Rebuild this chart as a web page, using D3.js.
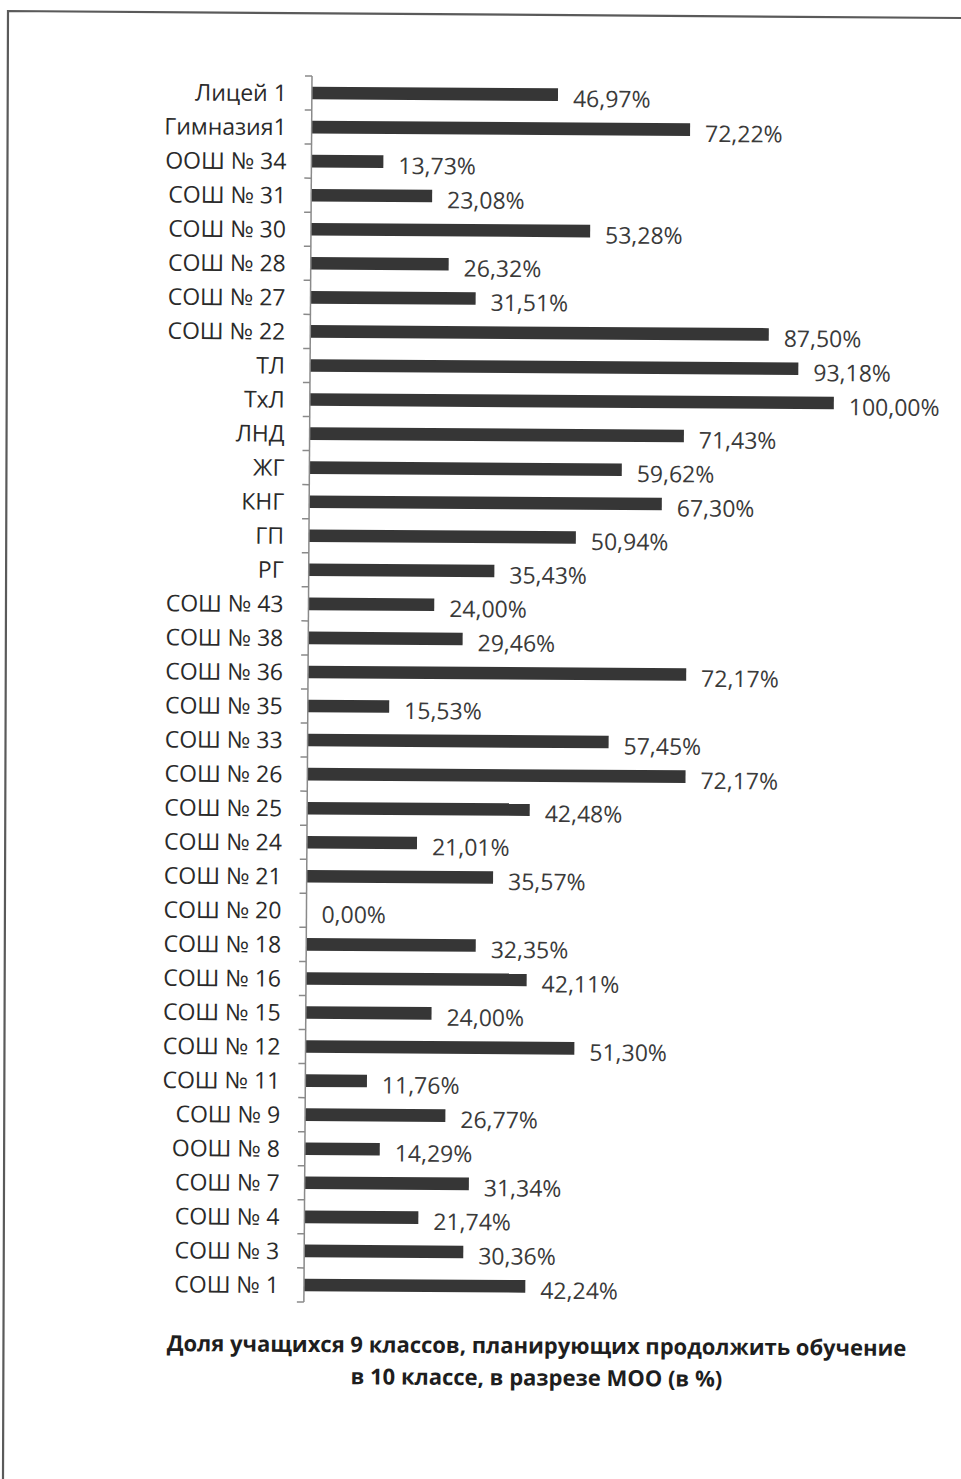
<!DOCTYPE html>
<html>
<head>
<meta charset="utf-8">
<script src="https://cdn.jsdelivr.net/npm/d3@7"></script>
<style>
  html, body { margin: 0; padding: 0; background: #fff; }
  svg { display: block; }
</style>
</head>
<body>
<svg id="chart"></svg>
<script>
// Schools (top to bottom) and share of 9th graders planning to continue in 10th grade, %
const schools = [
  "Лицей 1", "Гимназия1", "ООШ № 34", "СОШ № 31", "СОШ № 30", "СОШ № 28",
  "СОШ № 27", "СОШ № 22", "ТЛ", "ТхЛ", "ЛНД", "ЖГ", "КНГ", "ГП", "РГ",
  "СОШ № 43", "СОШ № 38", "СОШ № 36", "СОШ № 35", "СОШ № 33", "СОШ № 26",
  "СОШ № 25", "СОШ № 24", "СОШ № 21", "СОШ № 20", "СОШ № 18", "СОШ № 16",
  "СОШ № 15", "СОШ № 12", "СОШ № 11", "СОШ № 9", "ООШ № 8", "СОШ № 7",
  "СОШ № 4", "СОШ № 3", "СОШ № 1"
];
const shares = [
  46.97, 72.22, 13.73, 23.08, 53.28, 26.32,
  31.51, 87.50, 93.18, 100.00, 71.43, 59.62, 67.30, 50.94, 35.43,
  24.00, 29.46, 72.17, 15.53, 57.45, 72.17,
  42.48, 21.01, 35.57, 0.00, 32.35, 42.11,
  24.00, 51.30, 11.76, 26.77, 14.29, 31.34,
  21.74, 30.36, 42.24
];
const titleLines = [
  "Доля учащихся 9 классов, планирующих продолжить обучение",
  "в 10 классе, в разрезе МОО (в %)"
];

const width = 961;
const height = 1479;
const axisX = 312;
const axisTop = 76;
const axisBottom = 1302;

const svg = d3.select("#chart").attr("width", width).attr("height", height);

// scanned page frame (top and left edge)
svg.append("path")
  .attr("d", `M ${width} 18 L 8 11 L 3 ${height}`)
  .attr("fill", "none")
  .attr("stroke", "#5a5a5a")
  .attr("stroke-width", 2.2);

// the scan is a little tilted, so rotate the whole chart slightly
const g = svg.append("g").attr("transform", `rotate(0.38, ${axisX}, ${axisTop})`);

const x = d3.scaleLinear().domain([0, 100]).range([axisX, axisX + 524]);
const y = d3.scaleBand()
  .domain(schools)
  .range([axisTop, axisBottom])
  .paddingInner(0.63)
  .paddingOuter(0.315);

const fmt = (v) => d3.format(".2f")(v).replace(".", ",") + "%";
const rows = schools.map((name, i) => ({ name, value: shares[i] }));

// bars
g.selectAll(".bar")
  .data(rows)
  .enter()
  .append("rect")
  .attr("class", "bar")
  .attr("x", x(0))
  .attr("y", (d) => y(d.name))
  .attr("width", (d) => x(d.value) - x(0))
  .attr("height", y.bandwidth())
  .attr("fill", "#363636");

// category axis: line with ticks between bands
g.append("line")
  .attr("x1", axisX).attr("x2", axisX)
  .attr("y1", axisTop).attr("y2", axisBottom)
  .attr("stroke", "#8a8a8a")
  .attr("stroke-width", 1.5);

g.selectAll(".tick")
  .data(d3.range(schools.length + 1))
  .enter()
  .append("line")
  .attr("class", "tick")
  .attr("x1", axisX - 7).attr("x2", axisX)
  .attr("y1", (i) => axisTop + i * y.step())
  .attr("y2", (i) => axisTop + i * y.step())
  .attr("stroke", "#8a8a8a")
  .attr("stroke-width", 1.5);

// category labels
g.selectAll(".cat")
  .data(rows)
  .enter()
  .append("text")
  .attr("class", "cat")
  .attr("x", axisX - 25)
  .attr("y", (d) => y(d.name) + y.bandwidth() / 2)
  .attr("dy", "0.36em")
  .attr("text-anchor", "end")
  .attr("font-family", "'Open Sans', sans-serif")
  .attr("font-size", 23)
  .attr("fill", "#2a2a2a")
  .text((d) => d.name);

// value labels
g.selectAll(".val")
  .data(rows)
  .enter()
  .append("text")
  .attr("class", "val")
  .attr("x", (d) => x(d.value) + 15)
  .attr("y", (d) => y(d.name) + y.bandwidth() / 2 + 4)
  .attr("dy", "0.36em")
  .attr("font-family", "'Open Sans', sans-serif")
  .attr("font-size", 23)
  .attr("fill", "#3a3a3a")
  .text((d) => fmt(d.value));

// title, fitted to the width of the original
const titleWidths = [740, 378];
g.selectAll(".title")
  .data(titleLines)
  .enter()
  .append("text")
  .attr("class", "title")
  .attr("x", 545)
  .attr("y", (d, i) => 1352 + i * 32)
  .attr("text-anchor", "middle")
  .attr("font-family", "'Open Sans', sans-serif")
  .attr("font-weight", "bold")
  .attr("font-size", 20)
  .attr("fill", "#1e1e1e")
  .text((d) => d)
  .each(function (d, i) {
    const w = this.getComputedTextLength();
    d3.select(this).attr("font-size", Math.min(22, 20 * titleWidths[i] / w));
  });
</script>
</body>
</html>
